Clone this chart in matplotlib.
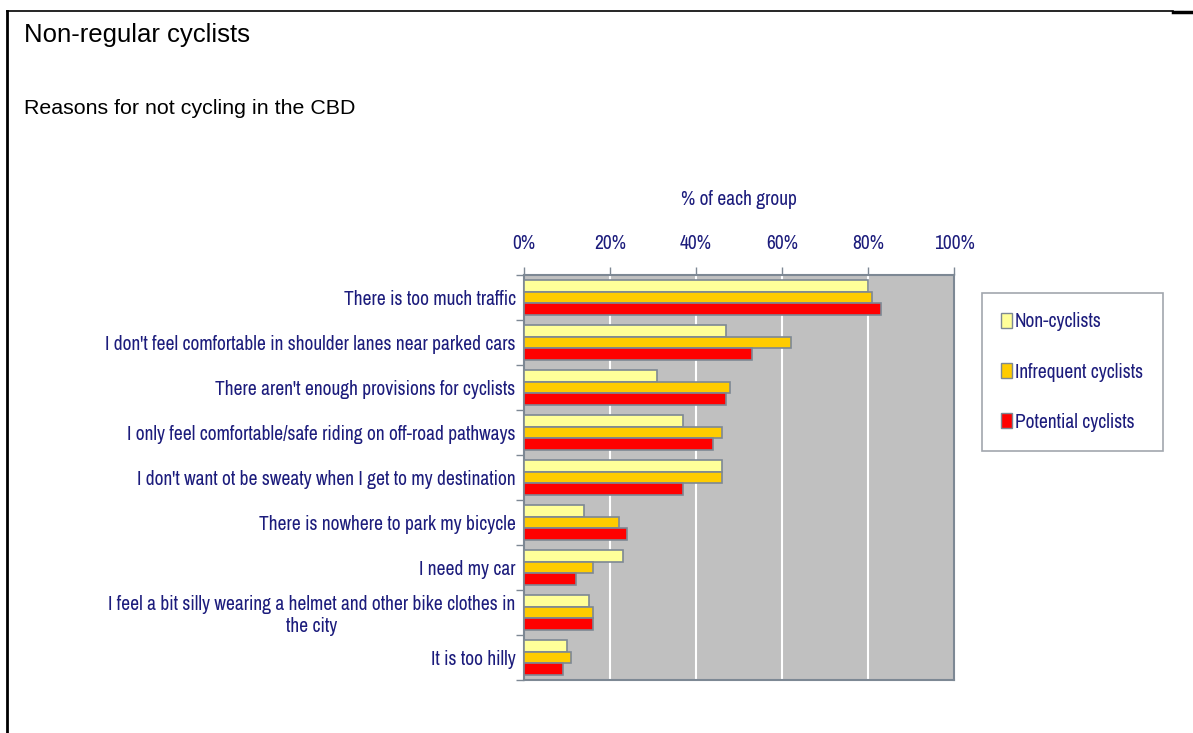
import numpy as np
import matplotlib
matplotlib.use('Agg')
import matplotlib.pyplot as plt
from matplotlib.patches import Patch
from matplotlib.lines import Line2D

# the original uses Arial Narrow for the chart text
label_font = ['Archivo Narrow', 'Liberation Sans', 'DejaVu Sans']
plt.rcParams['font.family'] = ['Liberation Sans', 'DejaVu Sans']

# data (% of each group)
reasons = [
    "There is too much traffic",
    "I don't feel comfortable in shoulder lanes near parked cars",
    "There aren't enough provisions for cyclists",
    "I only feel comfortable/safe riding on off-road pathways",
    "I don't want ot be sweaty when I get to my destination",
    "There is nowhere to park my bicycle",
    "I need my car",
    "I feel a bit silly wearing a helmet and other bike clothes in\nthe city",
    "It is too hilly",
]
non_cyclists = [80, 47, 31, 37, 46, 14, 23, 15, 10]
infrequent_cyclists = [81, 62, 48, 46, 46, 22, 16, 16, 11]
potential_cyclists = [83, 53, 47, 44, 37, 24, 12, 16, 9]
series_names = ['Non-cyclists', 'Infrequent cyclists', 'Potential cyclists']
series_colors = ['#FFFF99', '#FFCC00', '#FF0000']
x_ticks = [0, 20, 40, 60, 80, 100]

navy = '#1c1c7c'
edge = '#7d8894'
fs = 14

fig = plt.figure(figsize=(11.93, 7.33), dpi=100)

# page frame lines (top and left)
fig.add_artist(Line2D([7/1193, 7/1193], [0, 1 - 11/733], transform=fig.transFigure,
                      color='black', lw=2))
fig.add_artist(Line2D([7/1193, 1173/1193], [1 - 11/733, 1 - 11/733], transform=fig.transFigure,
                      color='black', lw=1.2))
fig.add_artist(Line2D([1173/1193, 1], [1 - 12/733, 1 - 12/733], transform=fig.transFigure,
                      color='black', lw=2.5))

fig.text(24/1193, 1 - 35/733, 'Non-regular cyclists', fontsize=18.5, color='black',
         ha='left', va='center')
fig.text(24/1193, 1 - 108/733, 'Reasons for not cycling in the CBD', fontsize=15.4,
         color='black', ha='left', va='center')

ax = fig.add_axes([524/1193, 1 - 680/733, 430/1193, 405/733])
ax.set_facecolor('#C0C0C0')

n = len(reasons)
y = np.arange(n)
h = 0.265
data = [non_cyclists, infrequent_cyclists, potential_cyclists]
for i, (vals, name, col) in enumerate(zip(data, series_names, series_colors)):
    ax.barh(y + (i - 1) * h, vals, height=h, color=col, edgecolor=edge, linewidth=1.2,
            label=name, zorder=3)

ax.set_xlim(0, 100)
ax.set_ylim(n - 0.5, -0.5)
ax.xaxis.tick_top()
ax.xaxis.set_label_position('top')
ax.set_xticks(x_ticks)
ax.set_xticklabels([f'{t}%' for t in x_ticks], fontsize=fs, color=navy, fontweight='bold',
                   family=label_font)
ax.set_xlabel('% of each group', fontsize=fs, color=navy, labelpad=21, family=label_font)
ax.tick_params(axis='x', direction='out', length=6, width=1, color=edge, pad=10)
for t in x_ticks[1:-1]:
    ax.axvline(t, color='white', lw=1.5, zorder=1)

# category labels, ticks at category boundaries
ax.set_yticks(y)
ax.set_yticklabels(reasons, fontsize=fs, color=navy, multialignment='center', family=label_font)
ax.tick_params(axis='y', length=0, pad=6)
ax.set_yticks(np.arange(n + 1) - 0.5, minor=True)
ax.tick_params(axis='y', which='minor', length=6, width=1, color=edge, direction='out')

for s in ax.spines.values():
    s.set_color(edge)
    s.set_linewidth(1.5)

handles = [Patch(facecolor=c, edgecolor=edge, label=nm) for c, nm in zip(series_colors, series_names)]
leg = fig.legend(handles=handles, loc='upper left', bbox_to_anchor=(982/1193, 1 - 293/733),
                 frameon=True, fancybox=False, prop={'family': label_font, 'size': fs},
                 handlelength=0.55, handleheight=0.8,
                 handletextpad=0.15, labelspacing=1.6, borderpad=1.0, borderaxespad=0)
leg.get_frame().set_edgecolor('#8a9099')
leg.get_frame().set_linewidth(1.2)
for t in leg.get_texts():
    t.set_color(navy)

fig.savefig('out.png', dpi=100)
